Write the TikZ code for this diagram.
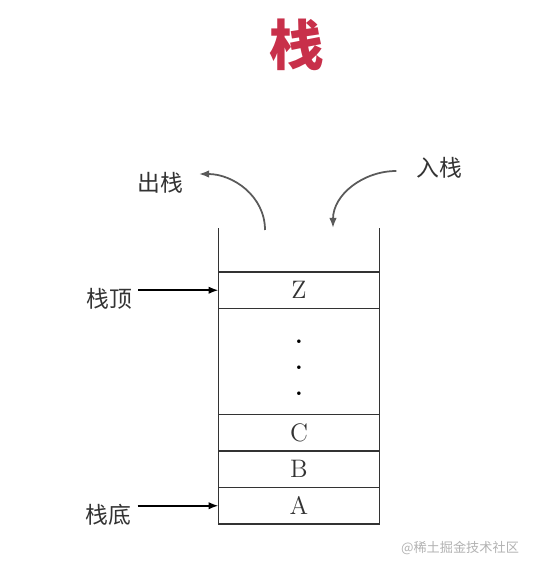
\documentclass[tikz,border=0pt]{standalone}
\usepackage{fontspec}
\usetikzlibrary{arrows.meta,positioning}
\newfontfamily\cjk{Noto Sans CJK SC}
\definecolor{stackRed}{HTML}{C8304A}
\definecolor{stackInk}{HTML}{333333}
\definecolor{stackGrey}{HTML}{5A5A5A}

\begin{document}
\begin{tikzpicture}[font=\cjk,
    cell/.style={draw=stackInk,line width=0.8pt,minimum width=3.22cm,
                 minimum height=0.73cm,outer sep=0pt,inner sep=0pt,
                 font=\normalfont\Large,text=stackInk},
    wall/.style={draw=stackInk,line width=0.8pt},
    lbl/.style={font=\cjk\fontsize{13}{15}\selectfont,text=stackInk},
    arr/.style={-{Latex[length=2mm,width=1.5mm]},black,line width=1pt},
    garr/.style={-{Latex[length=2mm,width=1.5mm]},stackGrey,line width=1pt}]
  \useasboundingbox (0,0) rectangle (11.14,11.38);

  \node[font=\cjk\bfseries\fontsize{31}{34}\selectfont,text=stackRed] (title) at (5.94,10.48) {栈};

  % stack cells, bottom up
  \node[cell] (a) at (5.98,1.265) {A};
  \node[cell,above=0pt of a] (b) {B};
  \node[cell,above=0pt of b] (c) {C};
  \node[cell,above=0pt of c,minimum height=2.12cm] (dots) {};
  \node[cell,above=0pt of dots] (z) {Z};
  \node[font=\normalfont\bfseries\fontsize{14}{14.8}\selectfont,align=center,inner sep=0pt]
    (ell) at ([yshift=-0.13cm]dots.center) {.\\.\\.};
  \draw[wall] (z.north west) -- ++(0,0.88);
  \draw[wall] (z.north east) -- ++(0,0.88);

  \node[lbl] (toplbl) at (2.18,5.40) {栈顶};
  \node[lbl] (botlbl) at (2.17,1.08) {栈底};
  \node[lbl] (poplbl) at (3.20,7.72) {出栈};
  \node[lbl] (pushlbl) at (8.78,8.02) {入栈};

  \draw[arr] (toplbl.east |- z.west) -- (z.west);
  \draw[arr] (botlbl.east |- a.west) -- (a.west);

  \coordinate (popfoot) at (5.30,6.78);
  \coordinate (pushfoot) at (6.66,6.82);
  \draw[garr] (popfoot) to[out=90,in=0] ([shift={(0.2,0.18)}]poplbl.east);
  \draw[garr] ([shift={(-0.27,-0.06)}]pushlbl.west) to[out=180,in=90] (pushfoot);

  \node[font=\cjk\fontsize{7.5}{9}\selectfont,text=black!30] (mark) at (9.2,0.42) {@稀土掘金技术社区};
\end{tikzpicture}
\end{document}
